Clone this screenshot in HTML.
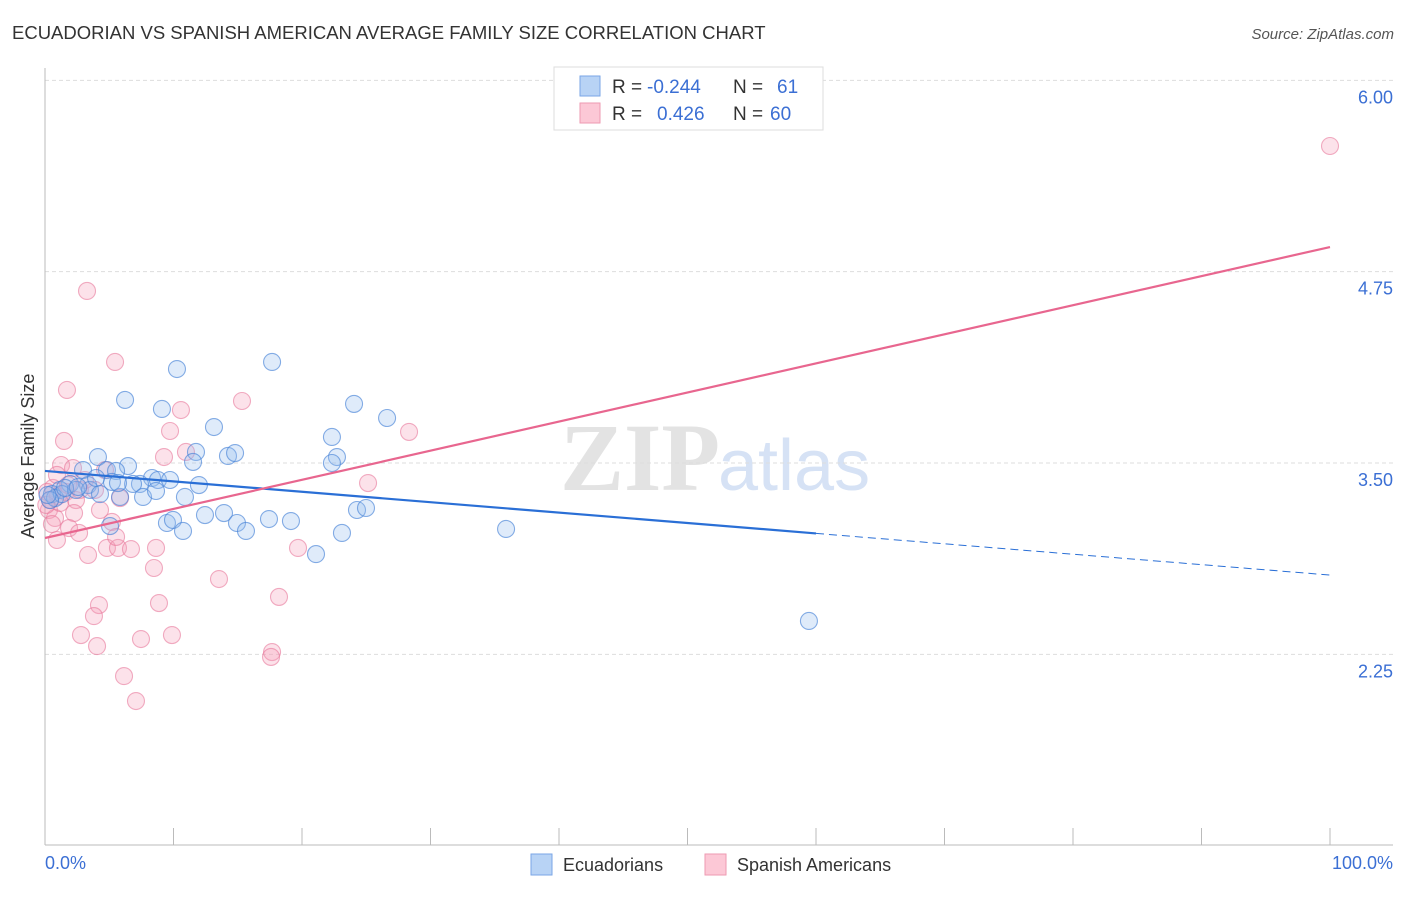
<!DOCTYPE html>
<html><head><meta charset="utf-8"><style>
body{margin:0;background:#fff;font-family:"Liberation Sans",sans-serif}
</style></head><body>
<svg width="1406" height="892" viewBox="0 0 1406 892" xmlns="http://www.w3.org/2000/svg">
<text x="12" y="39" font-size="18.5" fill="#333">ECUADORIAN VS SPANISH AMERICAN AVERAGE FAMILY SIZE CORRELATION CHART</text>
<text x="1394" y="39" font-size="15" fill="#555" font-style="italic" text-anchor="end">Source: ZipAtlas.com</text>
<text x="720" y="490" font-size="96" fill="#e3e3e3" text-anchor="end" font-family="Liberation Serif" font-weight="bold">ZIP</text>
<text x="718" y="490" font-size="72" fill="#d6e2f5">atlas</text>
<g id="grid"></g>
<g id="axes"></g>
<g id="pts"></g>
<g id="lines"></g>
<text transform="translate(34,456) rotate(-90)" font-size="18" fill="#333" text-anchor="middle">Average Family Size</text>
<text x="45" y="869" font-size="18" fill="#3b6fd4">0.0%</text>
<text x="1393" y="869" font-size="18" fill="#3b6fd4" text-anchor="end">100.0%</text>
<g>
<rect x="554" y="67" width="269" height="63" fill="#fff" stroke="#ddd"/>
<rect x="580" y="76" width="20" height="20" fill="#b8d3f5" stroke="#7aa6e6"/>
<rect x="580" y="103" width="20" height="20" fill="#fcc8d6" stroke="#ee9ab2"/>
<text x="612" y="93" font-size="19" fill="#333">R =</text>
<text x="647" y="93" font-size="19" fill="#3b6fd4">-0.244</text>
<text x="733" y="93" font-size="19" fill="#333">N =</text>
<text x="777" y="93" font-size="19" fill="#3b6fd4">61</text>
<text x="612" y="120" font-size="19" fill="#333">R =</text>
<text x="657" y="120" font-size="19" fill="#3b6fd4">0.426</text>
<text x="733" y="120" font-size="19" fill="#333">N =</text>
<text x="770" y="120" font-size="19" fill="#3b6fd4">60</text>
</g>
<g>
<rect x="531" y="854" width="21" height="21" fill="#b8d3f5" stroke="#7aa6e6"/>
<text x="563" y="871" font-size="18" fill="#333">Ecuadorians</text>
<rect x="705" y="854" width="21" height="21" fill="#fcc8d6" stroke="#ee9ab2"/>
<text x="737" y="871" font-size="18" fill="#333">Spanish Americans</text>
</g>
</svg>
<script>
const yTicks=[6.00,4.75,3.50,2.25];
const yTickLabels=["6.00","4.75","3.50","2.25"];
const xTicks=[0,10,20,30,40,50,60,70,80,90,100];
const blueX=[10.27,17.67,6.23,9.10,24.05,26.62,13.15,22.33,4.12,11.75,14.24,14.79,22.72,22.33,11.52,6.46,2.96,4.82,5.53,8.33,8.79,9.73,11.98,7.39,6.85,5.21,1.95,3.35,1.17,0.54,0.78,1.32,2.41,3.50,4.28,5.84,7.63,8.64,10.89,12.45,13.93,14.94,17.43,19.14,9.49,9.96,5.06,10.74,15.64,23.11,21.09,24.28,24.98,35.88,59.45,0.39,0.2,1.56,2.57,5.68,3.97];
const blueY=[4.114,4.160,3.912,3.853,3.886,3.794,3.735,3.670,3.539,3.572,3.546,3.565,3.539,3.500,3.507,3.480,3.454,3.454,3.448,3.402,3.389,3.389,3.356,3.363,3.363,3.376,3.363,3.356,3.324,3.297,3.271,3.297,3.324,3.324,3.297,3.278,3.278,3.317,3.278,3.160,3.173,3.108,3.134,3.121,3.108,3.128,3.088,3.056,3.056,3.043,2.905,3.193,3.206,3.069,2.468,3.258,3.291,3.337,3.343,3.369,3.402];
const pinkX=[100,3.27,5.45,1.71,15.33,10.58,9.73,28.33,1.48,10.97,9.26,1.25,2.18,4.67,25.14,0.62,0.16,1.01,1.63,2.41,2.72,0.31,0.78,2.26,0.54,1.87,5.21,2.65,0.93,3.35,4.82,5.68,6.69,5.53,8.64,19.69,8.48,13.54,18.21,4.20,8.87,3.81,2.80,9.88,7.47,4.05,17.67,17.59,6.15,7.08,1.17,0.39,0.1,3.89,5.84,1.79,3.11,4.28,0.93];
const pinkY=[5.571,4.624,4.160,3.977,3.905,3.846,3.709,3.703,3.644,3.572,3.539,3.487,3.467,3.454,3.369,3.337,3.311,3.284,3.311,3.258,3.324,3.193,3.141,3.173,3.101,3.075,3.115,3.043,2.997,2.899,2.945,2.945,2.938,3.017,2.945,2.945,2.814,2.742,2.625,2.572,2.585,2.500,2.376,2.376,2.350,2.304,2.265,2.233,2.108,1.945,3.239,3.258,3.226,3.324,3.271,3.356,3.389,3.193,3.422];
const blueTrend=[3.448,2.768];
const pinkTrend=[3.010,4.911];
const blueSolidEnd=60;
const NS="http://www.w3.org/2000/svg";
const X=v=>45+v*12.85;
const Y=v=>463-(v-3.5)*153.07;
function mk(t,a,p){const e=document.createElementNS(NS,t);for(const k in a)e.setAttribute(k,a[k]);p.appendChild(e);return e;}
const grid=document.getElementById('grid');
yTicks.forEach((t,i)=>{
 const l=mk('line',{x1:45,x2:1393,y1:Y(t),y2:Y(t),stroke:'#ddd','stroke-dasharray':'4,3'},grid);
 
 
 const tx=mk('text',{x:1393,y:Y(t)+23,'font-size':18,fill:'#3b6fd4','text-anchor':'end'},grid);
 tx.textContent=yTickLabels[i];
 
 
});
const ax=document.getElementById('axes');
let a1=mk('line',{x1:45,x2:45,y1:68,y2:845,stroke:'#bbb'},ax);


let a2=mk('line',{x1:45,x2:1393,y1:845,y2:845,stroke:'#bbb'},ax);


xTicks.forEach(t=>{
 const l=mk('line',{x1:X(t),x2:X(t),y1:828,y2:845,stroke:'#bbb'},ax);
 
 
});
const pts=document.getElementById('pts');
pinkX.forEach((x,i)=>{
 const c=mk('circle',{cx:X(x),cy:Y(pinkY[i]),r:8.5,fill:'rgba(246,160,185,0.3)',stroke:'rgba(232,120,155,0.6)','stroke-width':1.1},pts);
 
 
});
blueX.forEach((x,i)=>{
 const c=mk('circle',{cx:X(x),cy:Y(blueY[i]),r:8.5,fill:'rgba(150,190,240,0.3)',stroke:'rgba(70,130,215,0.65)','stroke-width':1.1},pts);
 
 
});
const ln=document.getElementById('lines');
const bAt=v=>blueTrend[0]+(blueTrend[1]-blueTrend[0])*v/100;
let b1=mk('line',{x1:X(0),y1:Y(bAt(0)),x2:X(blueSolidEnd),y2:Y(bAt(blueSolidEnd)),stroke:'#2a6fd6','stroke-width':2.2},ln);


let b2=mk('line',{x1:X(blueSolidEnd),y1:Y(bAt(blueSolidEnd)),x2:X(100),y2:Y(bAt(100)),stroke:'#2a6fd6','stroke-width':1,'stroke-dasharray':'8,5'},ln);


let p1=mk('line',{x1:X(0),y1:Y(pinkTrend[0]),x2:X(100),y2:Y(pinkTrend[1]),stroke:'#e8668f','stroke-width':2.2},ln);


</script>
</body></html>
